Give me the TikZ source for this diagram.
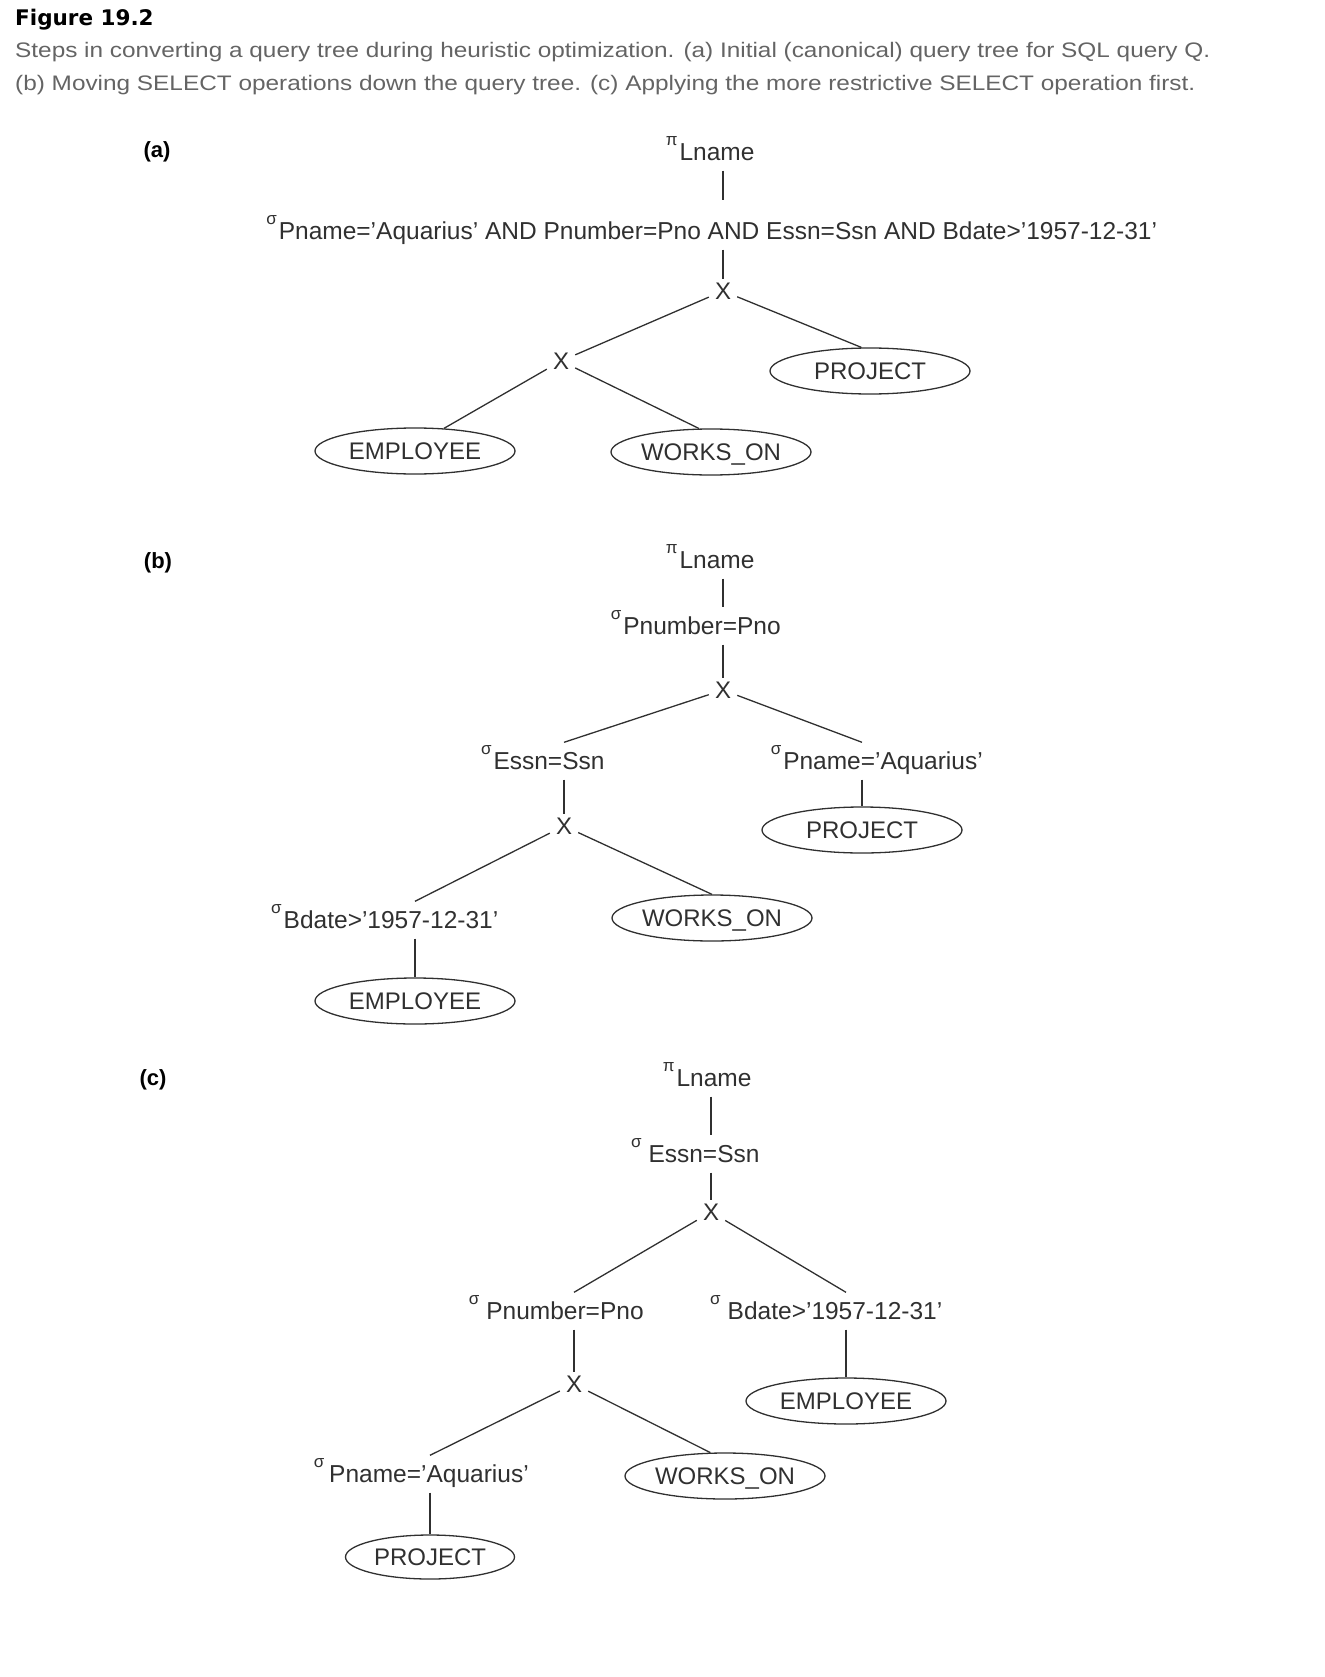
\documentclass[tikz,border=0pt]{standalone}
\usepackage{fontspec}
\setmainfont{Liberation Sans}
\newfontfamily\capfont{Liberation Sans}[FakeStretch=1.16]
\newfontfamily\headfont{DejaVu Sans}
\usetikzlibrary{shapes.geometric}
\definecolor{ink}{HTML}{303030}
\definecolor{capgray}{HTML}{646464}

% small operator symbol (sigma / pi) hung to the upper left of its condition;
% the optional argument is the gap between symbol and condition
\newcommand{\opsym}[2][2pt]{\llap{\raisebox{15pt}{\fontsize{17}{17}\selectfont #2}\hspace{#1}}}

\begin{document}
\begin{tikzpicture}[x=1pt,y=-1pt,
  op/.style={anchor=base, inner xsep=0pt, inner ysep=10pt, text height=17pt, text depth=0pt,
             font=\fontsize{24.5}{24.5}\selectfont, text=ink},
  cross/.style={inner xsep=6pt, inner ysep=3pt, text height=17pt, text depth=0pt,
             font=\fontsize{24}{24}\selectfont, text=ink},
  rel/.style={ellipse, draw=ink, line width=1.3pt, minimum width=200pt, minimum height=46pt,
             inner sep=0pt, text height=17pt, text depth=0pt,
             font=\fontsize{24}{24}\selectfont, text=ink},
  link/.style={draw=ink, line width=1.3pt},
  part/.style={anchor=base, font=\bfseries\fontsize{22}{22}\selectfont},
  captxt/.style={anchor=base west, inner sep=0pt, text=capgray, font=\capfont\fontsize{21}{21}\selectfont}]
\useasboundingbox (0,0) rectangle (1324,1677);

% heading
\node[anchor=base west, inner sep=0pt, font=\headfont\bfseries\fontsize{21.5}{21.5}\selectfont] (title) at (15,26) {Figure 19.2};
\node[captxt] (cap1) at (15,57.5) {Steps in converting a query tree during heuristic optimization. (a) Initial (canonical) query tree for SQL query Q.};
\node[captxt] (cap2) at (15,90.5) {(b) Moving SELECT operations down the query tree. (c) Applying the more restrictive SELECT operation first.};

% ---------------- (a) canonical tree ----------------
\node[part] (la) at (157,158) {(a)};
\node[op] (aPi) at (717,160.5) {\opsym{π}Lname};
\node[op, text height=29pt] (aSig) at (718,239.5) {\opsym{σ}Pname=’Aquarius’ AND Pnumber=Pno AND Essn=Ssn AND Bdate>’1957-12-31’};
\node[cross] (aX1) at (723,291) {X};
\node[cross] (aX2) at (561,361) {X};
\node[rel] (aProj) at (870,371) {PROJECT};
\node[rel] (aEmp) at (415,451) {EMPLOYEE};
\node[rel] (aWork) at (711,452) {WORKS\_ON};

\draw[link] (aX1 |- aPi.south) -- (aX1 |- aSig.north);
\draw[link] (aX1 |- aSig.south) -- (aX1);
\draw[link] (aX1) -- (aProj.110);
\draw[link] (aX1) -- (aX2);
\draw[link] (aX2) -- (aEmp.38);
\draw[link] (aX2) -- (aWork.117);

% ---------------- (b) selections pushed down ----------------
\node[part] (lb) at (158,568) {(b)};
\node[op] (bPi) at (717,568.5) {\opsym{π}Lname};
\node[op] (bSigN) at (702,634.5) {\opsym{σ}Pnumber=Pno};
\node[cross] (bX1) at (723,690) {X};
\node[op] (bSigE) at (549,769.5) {\opsym{σ}Essn=Ssn};
\node[op] (bSigP) at (883,769.5) {\opsym{σ}Pname=’Aquarius’};
\node[rel] (bProj) at (862,830) {PROJECT};
\node[cross] (bX2) at (564,826) {X};
\node[op] (bSigB) at (391,928.5) {\opsym{σ}Bdate>’1957-12-31’};
\node[rel] (bEmp) at (415,1001) {EMPLOYEE};
\node[rel] (bWork) at (712,918) {WORKS\_ON};

\draw[link] (bX1 |- bPi.south) -- (bX1 |- bSigN.north);
\draw[link] (bX1 |- bSigN.south) -- (bX1);
\draw[link] (bX1) -- (bX2 |- bSigE.north);
\draw[link] (bX1) -- (bProj |- bSigP.north);
\draw[link] (bProj |- bSigP.south) -- (bProj);
\draw[link] (bX2 |- bSigE.south) -- (bX2);
\draw[link] (bX2) -- (bEmp |- bSigB.north);
\draw[link] (bX2) -- (bWork.north);
\draw[link] (bEmp |- bSigB.south) -- (bEmp);

% ---------------- (c) most restrictive selection first ----------------
\node[part] (lc) at (153,1085) {(c)};
\node[op] (cPi) at (714,1086.5) {\opsym{π}Lname};
\node[op] (cSigE) at (704,1162.5) {\opsym[7pt]{σ}Essn=Ssn};
\node[cross] (cX1) at (711,1212) {X};
\node[op] (cSigN) at (565,1319.5) {\opsym[7pt]{σ}Pnumber=Pno};
\node[op] (cSigB) at (835,1319.5) {\opsym[7pt]{σ}Bdate>’1957-12-31’};
\node[cross] (cX2) at (574,1384) {X};
\node[rel] (cEmp) at (846,1401) {EMPLOYEE};
\node[op] (cSigA) at (429,1482.5) {\opsym[5pt]{σ}Pname=’Aquarius’};
\node[rel] (cWork) at (725,1476) {WORKS\_ON};
\node[rel, minimum width=169pt, minimum height=44pt] (cProj) at (430,1557) {PROJECT};

\draw[link] (cX1 |- cPi.south) -- (cX1 |- cSigE.north);
\draw[link] (cX1 |- cSigE.south) -- (cX1);
\draw[link] (cX1) -- (cX2 |- cSigN.north);
\draw[link] (cX1) -- (cEmp |- cSigB.north);
\draw[link] (cX2 |- cSigN.south) -- (cX2);
\draw[link] (cEmp |- cSigB.south) -- (cEmp);
\draw[link] (cX2) -- (cProj |- cSigA.north);
\draw[link] (cX2) -- (cWork.122);
\draw[link] (cProj |- cSigA.south) -- (cProj);
\end{tikzpicture}
\end{document}
